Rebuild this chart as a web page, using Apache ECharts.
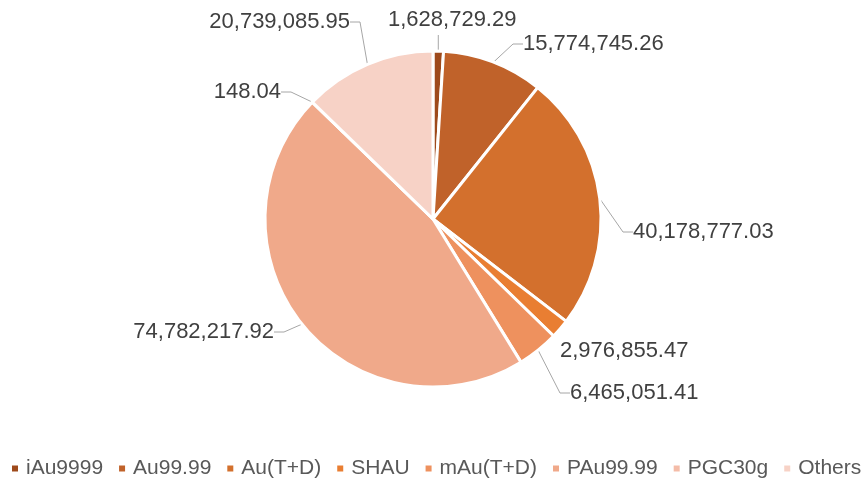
<!DOCTYPE html>
<html>
<head>
<meta charset="utf-8">
<script src="https://cdn.jsdelivr.net/npm/echarts@6/dist/echarts.min.js"></script>
<style>
html,body{margin:0;padding:0;background:#fff;}
#chart{width:867px;height:481px;}
</style>
</head>
<body>
<div id="chart"></div>
<script>
const categories = ["iAu9999", "Au99.99", "Au(T+D)", "SHAU", "mAu(T+D)", "PAu99.99", "PGC30g", "Others"];
const values = [1628729.29, 15774745.26, 40178777.03, 2976855.47, 6465051.41, 74782217.92, 148.04, 20739085.95];
const colors = ["#9E4A1C", "#C0622A", "#D3702D", "#E97E32", "#EE915E", "#F0A98A", "#F4BCA8", "#F7D2C6"];

// label anchor positions (x, y, align) per slice
const labelPos = [
  [388, 20, "left"],
  [523, 44, "left"],
  [633, 232, "left"],
  [560, 351, "left"],
  [570, 393, "left"],
  [274, 332, "right"],
  [281, 92, "right"],
  [350, 22, "right"]
];

function fmt(v) {
  return v.toLocaleString("en-US", {minimumFractionDigits: 2, maximumFractionDigits: 2});
}

const chart = echarts.init(document.getElementById("chart"), null, {renderer: "canvas"});
chart.setOption({
  animation: false,
  color: colors,
  legend: {
    bottom: 2,
    left: 10,
    width: 857,
    padding: 0,
    icon: "rect",
    itemWidth: 8,
    itemHeight: 8,
    itemGap: 14,
    textStyle: {fontFamily: "Liberation Sans", fontSize: 21, color: "#595959", padding: [0, 0, 0, 2]},
    data: categories
  },
  series: [{
    type: "pie",
    center: [433, 219],
    radius: [0, 168],
    startAngle: 90,
    clockwise: true,
    avoidLabelOverlap: false,
    itemStyle: {borderColor: "#fff", borderWidth: 3},
    label: {
      show: true,
      position: "outside",
      formatter: p => fmt(p.value),
      fontFamily: "Liberation Sans",
      fontSize: 22,
      color: "#404040"
    },
    labelLine: {show: true, length: 10, length2: 10, lineStyle: {color: "#A6A6A6", width: 1}},
    labelLayout: function (p) {
      const lp = labelPos[p.dataIndex];
      const out = {x: lp[0], y: lp[1], align: lp[2], verticalAlign: "middle"};
      if (p.dataIndex === 0 && p.labelLinePoints) {
        const s = p.labelLinePoints[0];
        out.labelLinePoints = [[s[0], s[1]], [s[0], 35], [s[0], 35]];
      }
      return out;
    },
    emphasis: {disabled: true},
    data: categories.map((c, i) => ({
      name: c,
      value: values[i],
      labelLine: i === 3 ? {show: false} : undefined
    }))
  }]
});
</script>
</body>
</html>
